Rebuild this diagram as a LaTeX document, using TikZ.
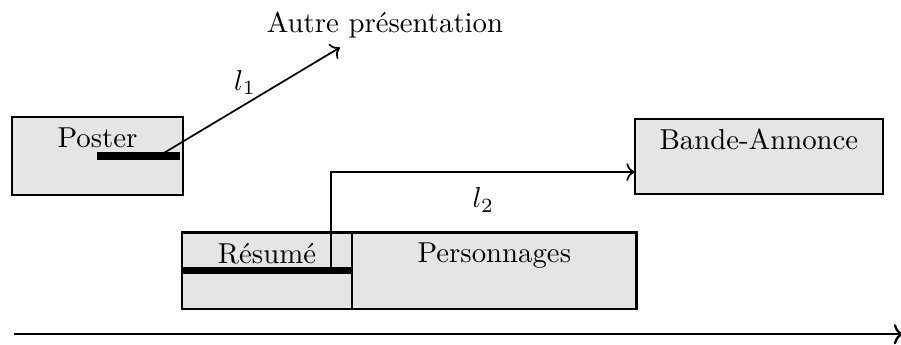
\documentclass[tikz,border=0pt]{standalone}
\usepackage{tikz}
\usetikzlibrary{positioning,arrows.meta}

\tikzset{
  zone/.style={draw, thick, fill=black!10, inner sep=0pt, outer sep=0pt, anchor=north west},
  titre/.style={anchor=north},
  barre/.style={line width=2.6pt},
}

\begin{document}
\begin{tikzpicture}[>={To}, semithick]
			\useasboundingbox (0,0) rectangle (11,4.21);

			% blocs
			\node[zone, minimum width=2.08cm, minimum height=0.95cm] (poster) at (0.15,2.78) {};
			\node[zone, minimum width=3.03cm, minimum height=0.92cm] (bande) at (7.75,2.76) {};
			\node[zone, minimum width=2.08cm, minimum height=0.93cm] (resume) at (2.22,1.37) {};
			\node[zone, minimum width=3.47cm, minimum height=0.93cm] (perso) at (resume.north east) {};

			\node[titre] (poster-t) at (poster.north) {Poster};
			\node[titre] (bande-t) at (bande.north) {Bande-Annonce};
			\node[titre] (resume-t) at (resume.north) {Résumé};
			\node[titre] (perso-t) at (perso.north) {Personnages};

			% liens
			\draw[barre] (poster.center) -- ([xshift=-0.03cm]poster.east);
			\draw[barre] (resume.west) -- (resume.east);

			\coordinate (p1) at (1.93,2.30);
			\coordinate (q1) at (4.15,3.63);
			\node (autre) at (4.70,3.91) {Autre présentation};
			\draw[->] (p1) -- (q1);
			\node (l1) at (2.99,3.20) {$l_1$};

			\coordinate (p2) at (4.04,0.904);
			\coordinate (q2) at ([yshift=-0.19cm]bande.west);
			\draw[->] (p2) |- (q2);
			\node (l2) at (5.90,1.77) {$l_2$};

			% temps
			\coordinate (t0) at (0.17,0.13);
			\coordinate (t1) at (11.03,0.13);
			\draw[->, thick] (t0) -- (t1);
		\end{tikzpicture}
\end{document}
